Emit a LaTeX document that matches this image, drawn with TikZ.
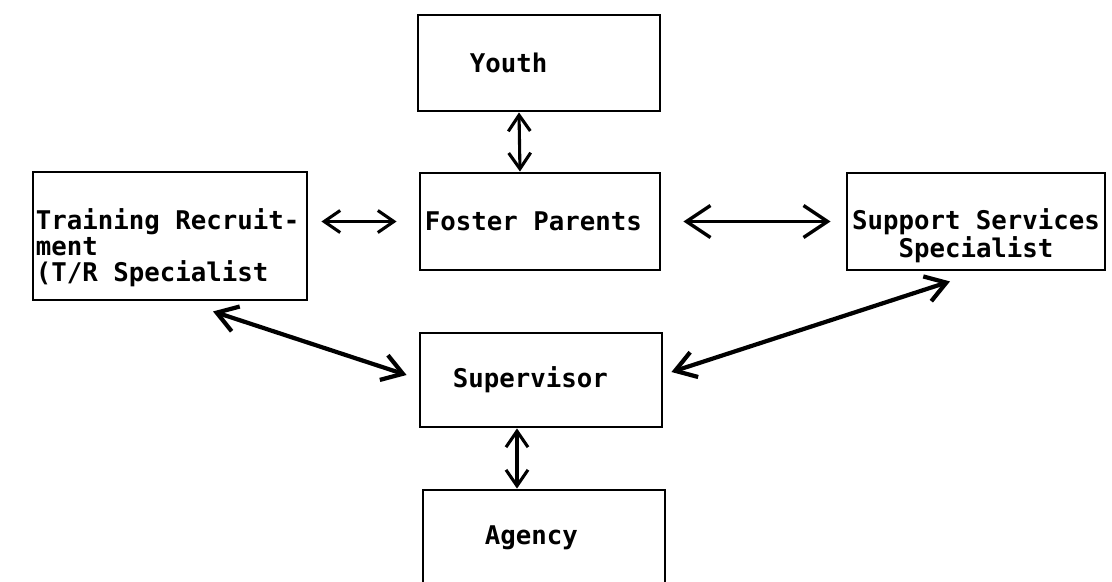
\documentclass[tikz,border=0pt]{standalone}
\usepackage{fontspec}
\setmonofont{DejaVu Sans Mono}
\usetikzlibrary{arrows.meta,calc}

\begin{document}
\begin{tikzpicture}[
  x=0.025cm,y=-0.025cm,
  box/.style={draw=black,line width=2pt,inner ysep=0pt,font=\ttfamily\bfseries\fontsize{18.3}{18.6}\selectfont,execute at begin node={\spaceskip=0.602em\relax}},
  link/.style={{Straight Barb[length=4mm,width=5.5mm]}-{Straight Barb[length=4mm,width=5.5mm]},line width=2.2pt,line cap=round},
  wide/.style={{Straight Barb[length=6mm,width=8mm]}-{Straight Barb[length=6mm,width=8mm]},line width=2.4pt,line cap=round},
  slant/.style={{Straight Barb[length=5mm,width=6.5mm]}-{Straight Barb[length=5mm,width=6.5mm]},line width=3pt,line cap=round}
]
\path[use as bounding box,fill=white] (0,0) rectangle (1112,581);
\clip (0,0) rectangle (1112,581);

% CENTRE COLUMN
\node[box,minimum width=6.05cm,minimum height=2.4cm,inner xsep=1.3cm,text width=3.45cm,align=left] (youth) at (539,63) {Youth};
\node[box,minimum width=6.0cm,minimum height=2.425cm,inner xsep=1.25mm,text width=5.75cm,align=left] (foster) at (540,221.5) {Foster Parents};
\node[box,minimum width=6.05cm,minimum height=2.35cm,inner xsep=8.25mm,text width=4.4cm,align=left] (superv) at (541,380) {Supervisor};
\node[box,minimum width=6.05cm,minimum height=3.75cm,inner xsep=1.55cm,text width=2.95cm,align=left,text depth=1.5cm] (agency) at (544,565) {Agency};

% SIDE BOXES
\node[box,minimum width=6.85cm,minimum height=3.2cm,inner xsep=0.75mm,text width=6.7cm,align=left] (train) at (170,236) {\rule{0pt}{1.1cm}Training Recruit-\\ment\\(T/R Specialist};
\node[box,minimum width=6.45cm,minimum height=2.425cm,inner xsep=1.25mm,text width=6.2cm,align=center] (support) at (976,221.5) {\rule{0pt}{1.25cm}Support Services\\Specialist};

% CONNECTORS
\draw[link] ([xshift=-5mm]youth.south) -- ([xshift=-5mm]foster.north);
\draw[link,shorten <=3.25mm,shorten >=5.5mm] (train.east |- foster.west) -- (foster.west);
\draw[wide,shorten <=5.5mm,shorten >=3.75mm] (foster.east) -- (support.west);
\draw[slant] ([shift={(1.075cm,-0.25cm)}]train.south) -- ([shift={(-0.3cm,0.125cm)}]superv.west);
\draw[slant] ([shift={(0.2cm,0.2cm)}]superv.east) -- ([shift={(-0.65cm,-0.25cm)}]support.south);
\draw[link] ([xshift=-6mm]superv.south) -- ([xshift=-6mm]superv.south |- agency.north);

\end{tikzpicture}
\end{document}
